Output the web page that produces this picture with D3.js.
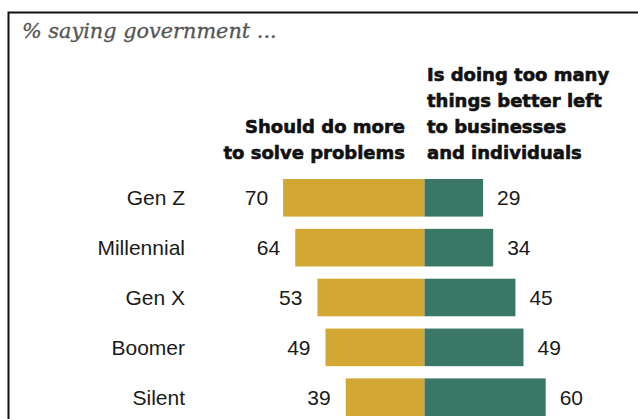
<!DOCTYPE html>
<html>
<head>
<meta charset="utf-8">
<script src="https://cdn.jsdelivr.net/npm/d3@7"></script>
<style>
  html, body { margin: 0; padding: 0; background: #fff; }
  svg { display: block; }
</style>
</head>
<body>
<svg id="chart" width="638" height="419"></svg>
<script>
// Survey shares by generation
const generations = ["Gen Z", "Millennial", "Gen X", "Boomer", "Silent"];
const doMore = [70, 64, 53, 49, 39];        // Should do more to solve problems
const doingTooMuch = [29, 34, 45, 49, 60];  // Is doing too many things better left to businesses and individuals

const titleText = "% saying government ...";
const leftHeader = ["Should do more", "to solve problems"];
const rightHeader = ["Is doing too many", "things better left", "to businesses", "and individuals"];

const YELLOW = "#D3A734";
const TEAL = "#3A7767";

const svg = d3.select("#chart");
const W = 638, H = 419;

// Frame (top and left edges visible, others run off the page)
svg.append("rect")
  .attr("x", 8.5).attr("y", 12.5)
  .attr("width", W + 20).attr("height", H + 20)
  .attr("fill", "none").attr("stroke", "#111").attr("stroke-width", 2);

svg.append("text")
  .attr("x", 22).attr("y", 38)
  .attr("font-family", "DejaVu Serif")
  .attr("font-style", "italic")
  .attr("font-size", 20.8)
  .attr("fill", "#555")
  .attr("stroke", "#555").attr("stroke-width", 0.3)
  .text(titleText);

const center = 424.5;
const x = d3.scaleLinear().domain([0, 100]).range([0, 202]);
const y = d3.scaleBand().domain(generations).range([179, 416]).paddingInner(0.246).paddingOuter(0);

const rows = generations.map((g, i) => ({ g, a: doMore[i], b: doingTooMuch[i] }));

const row = svg.selectAll("g.row").data(rows).join("g").attr("class", "row");

row.append("rect")
  .attr("x", d => center - x(d.a))
  .attr("y", d => y(d.g))
  .attr("width", d => x(d.a))
  .attr("height", y.bandwidth())
  .attr("fill", YELLOW);

row.append("rect")
  .attr("x", center)
  .attr("y", d => y(d.g))
  .attr("width", d => x(d.b))
  .attr("height", y.bandwidth())
  .attr("fill", TEAL);

const labelFont = "Liberation Sans, Arial, sans-serif";
const baseline = d => y(d.g) + y.bandwidth() / 2 + 7.5;

row.append("text")
  .attr("x", 185)
  .attr("y", baseline)
  .attr("text-anchor", "end")
  .attr("font-family", labelFont)
  .attr("font-size", 21)
  .attr("fill", "#1a1a1a")
  .text(d => d.g);

row.append("text")
  .attr("x", d => center - x(d.a) - 15)
  .attr("y", baseline)
  .attr("text-anchor", "end")
  .attr("font-family", labelFont)
  .attr("font-size", 21)
  .attr("fill", "#1a1a1a")
  .text(d => d.a);

row.append("text")
  .attr("x", d => center + x(d.b) + 14)
  .attr("y", baseline)
  .attr("text-anchor", "start")
  .attr("font-family", labelFont)
  .attr("font-size", 21)
  .attr("fill", "#1a1a1a")
  .text(d => d.b);

// Column headers
const headFont = "DejaVu Sans";
svg.append("text")
  .attr("text-anchor", "end")
  .attr("font-family", headFont).attr("font-weight", "bold")
  .attr("font-size", 18).attr("fill", "#111")
  .attr("stroke", "#111").attr("stroke-width", 0.6)
  .selectAll("tspan").data(leftHeader).join("tspan")
  .attr("x", 405)
  .attr("y", (d, i) => 133 + i * 26)
  .text(d => d);

svg.append("text")
  .attr("text-anchor", "start")
  .attr("font-family", headFont).attr("font-weight", "bold")
  .attr("font-size", 18).attr("fill", "#111")
  .attr("stroke", "#111").attr("stroke-width", 0.6)
  .selectAll("tspan").data(rightHeader).join("tspan")
  .attr("x", 427)
  .attr("y", (d, i) => 81 + i * 26)
  .text(d => d);
</script>
</body>
</html>
